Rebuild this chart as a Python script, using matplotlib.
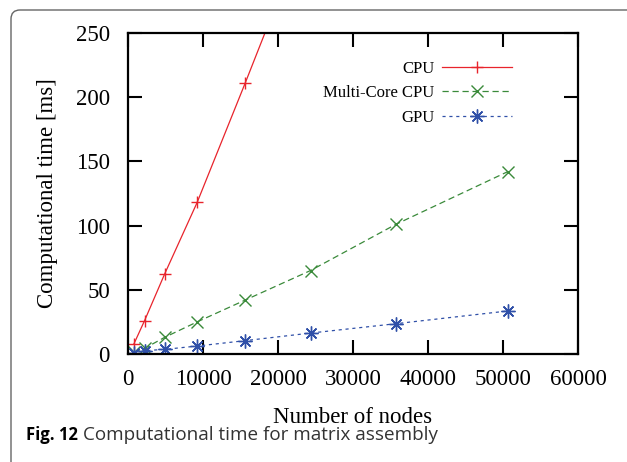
import matplotlib.pyplot as plt
from matplotlib.patches import FancyBboxPatch
from matplotlib.transforms import IdentityTransform

# number of nodes per mesh
nodes = [784, 2209, 4900, 9216, 15625, 24336, 35721, 50625]
cpu_ms = [7.8, 26, 62.5, 118, 211, 340, None, None]
multi_ms = [1.5, 4.4, 13, 25, 42, 65, 101, 142]
gpu_ms = [0.5, 2.6, 3.6, 6.2, 10.4, 16.3, 23.6, 33.5]

x_ticks = [0, 10000, 20000, 30000, 40000, 50000, 60000]
y_ticks = [0, 50, 100, 150, 200, 250]

red = '#e8242c'
green = '#3a8a3a'
blue = '#3050a8'
serif = ['Liberation Serif', 'DejaVu Serif']

fig = plt.figure(figsize=(6.27, 4.62), dpi=100)

# rounded frame round the whole figure (cut at right and bottom), in pixels
frame = FancyBboxPatch((11, -60), 800, 462 - 10 + 60,
                       boxstyle='round,pad=0,rounding_size=9',
                       transform=IdentityTransform(), fill=False,
                       edgecolor='#666666', lw=1.0)
fig.patches.append(frame)

ax = fig.add_axes([128 / 627, (462 - 354) / 462, 450 / 627, 321 / 462])

cpu_x = [n for n, v in zip(nodes, cpu_ms) if v is not None]
cpu_y = [v for v in cpu_ms if v is not None]
ax.plot(cpu_x, cpu_y, color=red, lw=0.9, marker='+', ms=9, mew=1.0,
        label='CPU')
ax.plot(nodes, multi_ms, color=green, lw=0.9, ls=(0, (5, 3)), marker='x',
        ms=8, mew=1.0, label='Multi-Core CPU')
ax.plot(nodes, gpu_ms, color=blue, lw=0.9, ls=(0, (2.5, 3)), marker=(8, 2, 0),
        ms=10, mew=1.0, label='GPU')

ax.set_xlim(0, 60000)
ax.set_ylim(0, 250)
ax.set_xticks(x_ticks)
ax.set_yticks(y_ticks)
ax.set_xticklabels([str(t) for t in x_ticks], family=serif, fontsize=16.5)
ax.set_yticklabels([str(t) for t in y_ticks], family=serif, fontsize=16.5)
ax.tick_params(direction='in', length=10, width=1.5, top=True, right=True,
               colors='black')
ax.tick_params(axis='x', pad=11)
ax.tick_params(axis='y', pad=13)
for s in ax.spines.values():
    s.set_linewidth(1.6)

ax.set_xlabel('Number of nodes', family=serif, fontsize=16.5, labelpad=12)
ax.set_ylabel('Computational time [ms]', family=serif, fontsize=16.5,
              labelpad=13)

ax.legend(loc='upper right', bbox_to_anchor=(512 / 627, 1 - 61 / 462),
          bbox_transform=fig.transFigure, frameon=False, markerfirst=False,
          prop={'family': serif, 'size': 12}, handlelength=4.2,
          handletextpad=0.45, borderpad=0, borderaxespad=0, labelspacing=0.5)

fig.text(26 / 627, 1 - 435 / 462, 'Fig. 12', fontfamily='Open Sans',
         fontweight='bold', fontsize=12, va='center', ha='left')
fig.text(83 / 627, 1 - 435 / 462, 'Computational time for matrix assembly',
         fontfamily='Open Sans', fontsize=13.6, va='center', ha='left',
         color='#333333')

fig.savefig('out.png', dpi=100)
